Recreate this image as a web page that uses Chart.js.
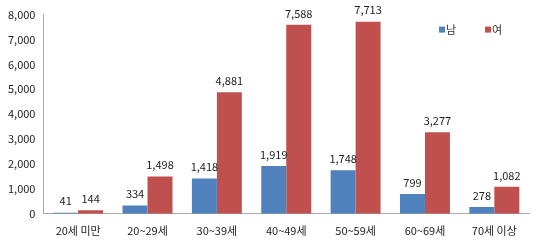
<!DOCTYPE html>
<html>
<head>
<meta charset="utf-8">
<script src="https://cdn.jsdelivr.net/npm/chart.js@4"></script>
<style>
html,body{margin:0;padding:0;background:#fff;}
#wrap{width:541px;height:251px;}
</style>
</head>
<body>
<div id="wrap"><canvas id="ageChart" width="541" height="251"></canvas></div>
<script>

// age groups and counts
const ageGroups=["20세 미만","20~29세","30~39세","40~49세","50~59세","60~69세","70세 이상"];
const male=[41,334,1418,1919,1748,799,278];
const female=[144,1498,4881,7588,7713,3277,1082];
const yTicks=[0,1000,2000,3000,4000,5000,6000,7000,8000];

const fontFam="'Noto Sans CJK KR','Malgun Gothic',sans-serif";

/* value labels above bars */
const valueLabels={
id:"valueLabels",
afterDatasetsDraw(chart){
const ctx=chart.ctx;
ctx.save();
ctx.font="11px "+fontFam;
ctx.fillStyle="#222";
ctx.textAlign="center";
ctx.textBaseline="bottom";
chart.data.datasets.forEach((ds,i)=>{
chart.getDatasetMeta(i).data.forEach((bar,j)=>{
ctx.fillText(ds.data[j].toLocaleString("en-US"),bar.x,bar.y-6);
});
});
ctx.restore();
}
};

/* legend inside plot, top right */
const innerLegend={
id:"innerLegend",
afterDraw(chart){
const ctx=chart.ctx;
const area=chart.chartArea;
ctx.save();
ctx.font="11px "+fontFam;
ctx.textBaseline="middle";
ctx.textAlign="left";
let x=area.right-90;
const y=area.top+15;
chart.data.datasets.forEach(ds=>{
ctx.fillStyle=ds.backgroundColor;
ctx.fillRect(x,y-3,6,6);
ctx.fillStyle="#333";
ctx.fillText(ds.label,x+7,y);
x+=46;
});
ctx.restore();
}
};

new Chart(document.getElementById("ageChart"),{
type:"bar",
data:{
labels:ageGroups,
datasets:[
{label:"남",data:male,backgroundColor:"#4F81BD"},
{label:"여",data:female,backgroundColor:"#C0504D"}
]
},
options:{
responsive:false,
animation:false,
layout:{padding:{left:0,right:12,top:6,bottom:4}},
datasets:{bar:{categoryPercentage:0.72,barPercentage:1}},
plugins:{
legend:{display:false},
tooltip:{enabled:false}
},
scales:{
x:{
grid:{display:false,drawTicks:false},
border:{color:"#aaa"},
ticks:{color:"#222",padding:10,font:{size:11,family:fontFam}}
},
y:{
min:0,max:8000,
afterBuildTicks(axis){axis.ticks=yTicks.map(v=>({value:v}));},
grid:{display:false,drawTicks:false},
border:{color:"#aaa"},
ticks:{color:"#222",padding:8,font:{size:11,family:fontFam},callback:v=>v.toLocaleString("en-US")}
}
}
},
plugins:[valueLabels,innerLegend]
});

</script>
</body>
</html>
